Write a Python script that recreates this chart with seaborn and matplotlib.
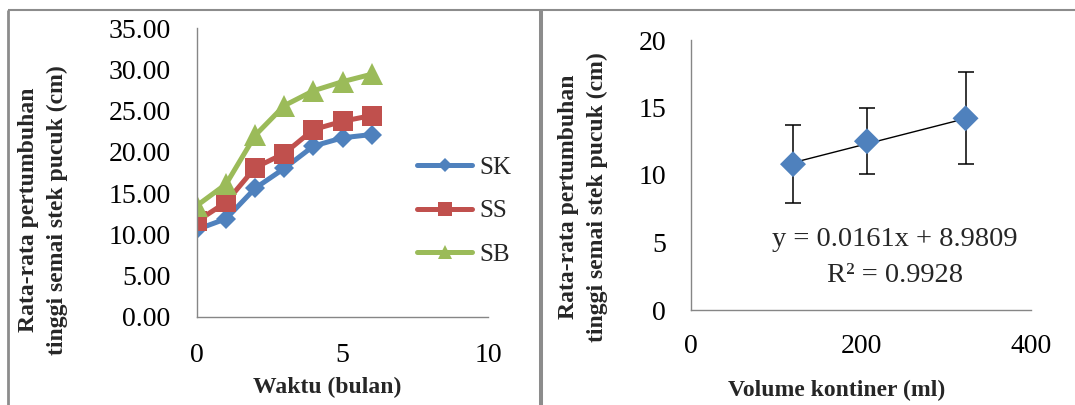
import numpy as np
import pandas as pd
import matplotlib
matplotlib.use("Agg")
import matplotlib.pyplot as plt
from matplotlib.lines import Line2D
import seaborn as sns

# ---- data: growth over time per treatment ----
bulan = [0, 1, 2, 3, 4, 5, 6]
sk = [10.6, 11.9, 15.6, 18.0, 20.7, 21.7, 22.1]
ss = [11.6, 13.9, 18.1, 19.8, 22.7, 23.7, 24.4]
sb = [13.5, 16.1, 22.0, 25.6, 27.4, 28.5, 29.4]
series_names = ["SK", "SS", "SB"]

# ---- data: growth vs container volume ----
volume = [120, 207, 323]
tinggi = [10.8, 12.5, 14.2]
galat = [2.87, 2.45, 3.4]
slope = 0.0161
intercept = 8.9809
r2 = 0.9928

left_yticks = [0, 5, 10, 15, 20, 25, 30, 35]
left_xticks = [0, 5, 10]
right_yticks = [0, 5, 10, 15, 20]
right_xticks = [0, 200, 400]

sns.set_theme(style="white")
plt.rcParams["font.family"] = ["Liberation Serif", "DejaVu Serif"]

W, H = 1075, 405
fig = plt.figure(figsize=(W / 100, H / 100), dpi=100)
fig.patch.set_facecolor("white")


def frac(x0, y0, x1, y1):
    """pixel box (top-left origin) -> figure fraction rect"""
    return [x0 / W, (H - y1) / H, (x1 - x0) / W, (y1 - y0) / H]


ax1 = fig.add_axes(frac(197, 28, 488, 317))
ax2 = fig.add_axes(frac(691, 40, 1031, 310))

spine_col = "#868686"
tick_fs = 20
label_fs = 17

colors = {"SK": "#4F81BD", "SS": "#C0504D", "SB": "#9BBB59"}
markers = {"SK": "D", "SS": "s", "SB": "^"}
msizes = {"SK": 10.5, "SS": 14, "SB": 15.5}

df = pd.DataFrame({
    "bulan": bulan * 3,
    "tinggi": sk + ss + sb,
    "seri": ["SK"] * 7 + ["SS"] * 7 + ["SB"] * 7,
})

for name in series_names:
    sub = df[df["seri"] == name]
    sns.lineplot(data=sub, x="bulan", y="tinggi", ax=ax1, color=colors[name],
                 marker=markers[name], markersize=msizes[name],
                 markeredgewidth=0, linewidth=3.6, label=name)

ax1.set_xlim(0, 10)
ax1.set_ylim(0, 35)
ax1.set_xticks(left_xticks)
ax1.set_yticks(left_yticks)
ax1.set_yticklabels([f"{v:.2f}" for v in left_yticks])
ax1.set_xlabel("")
ax1.set_ylabel("")

leg = ax1.legend(loc="center left", bbox_to_anchor=(417 / W, (H - 211) / H),
                 bbox_transform=fig.transFigure, frameon=False, fontsize=18,
                 handlelength=2.2, handletextpad=0.3, labelspacing=0.85,
                 borderpad=0, borderaxespad=0, markerscale=0.68)

# right panel: means with error bars and linear trend
ax2.errorbar(volume, tinggi, yerr=galat, fmt="none", ecolor="black",
             elinewidth=1.1, capsize=6, capthick=1.1, zorder=2)
trend_x = np.array([volume[0], volume[-1]])
sns.lineplot(x=trend_x, y=slope * trend_x + intercept, ax=ax2,
             color="black", linewidth=1.0, zorder=3)
sns.scatterplot(x=volume, y=tinggi, ax=ax2, marker="D", s=175,
                color="#4F81BD", edgecolor="none", zorder=4)

ax2.set_xlim(0, 400)
ax2.set_ylim(0, 20)
ax2.set_xticks(right_xticks)
ax2.set_yticks(right_yticks)
ax2.set_xlabel("")
ax2.set_ylabel("")

fig.text(895 / W, 1 - 240 / H, f"y = {slope}x + {intercept}", ha="center",
         va="center", fontsize=20.5)
fig.text(895 / W, 1 - 275 / H, f"R² = {r2}", ha="center", va="center",
         fontsize=20.5)

for ax in (ax1, ax2):
    ax.set_facecolor("white")
    for side in ("top", "right"):
        ax.spines[side].set_visible(False)
    for side in ("left", "bottom"):
        ax.spines[side].set_color(spine_col)
        ax.spines[side].set_linewidth(1.0)
    ax.tick_params(length=0, labelsize=tick_fs, colors="black")
    ax.grid(False)
ax1.tick_params(axis="y", pad=19)
ax1.tick_params(axis="x", pad=19)
ax2.tick_params(axis="y", pad=18)
ax2.tick_params(axis="x", pad=17)

ylab = "Rata-rata pertumbuhan\ntinggi semai stek pucuk (cm)"
fig.text(43 / W, 1 - 210 / H, ylab, rotation=90, ha="center", va="center",
         multialignment="center", fontsize=label_fs, fontweight="bold",
         linespacing=1.45)
fig.text(327 / W, 1 - 387 / H, "Waktu (bulan)", ha="center", va="center",
         fontsize=label_fs, fontweight="bold")
fig.text(583 / W, 1 - 197 / H, ylab, rotation=90, ha="center", va="center",
         multialignment="center", fontsize=label_fs, fontweight="bold",
         linespacing=1.45)
fig.text(837 / W, 1 - 390 / H, "Volume kontiner (ml)", ha="center",
         va="center", fontsize=label_fs, fontweight="bold")

# panel frames
frame_col = "#8C8C8C"


def px_line(xs, ys, lw):
    fig.add_artist(Line2D([x / W for x in xs], [1 - y / H for y in ys],
                          transform=fig.transFigure, color=frame_col,
                          linewidth=lw, solid_capstyle="butt"))


px_line([7.5, 7.5], [9.5, 410], 2.0)
px_line([7.5, 1080], [9.5, 9.5], 1.5)
px_line([541.3, 541.3], [9.5, 410], 2.9)

fig.savefig("out.png", dpi=100, facecolor="white")
